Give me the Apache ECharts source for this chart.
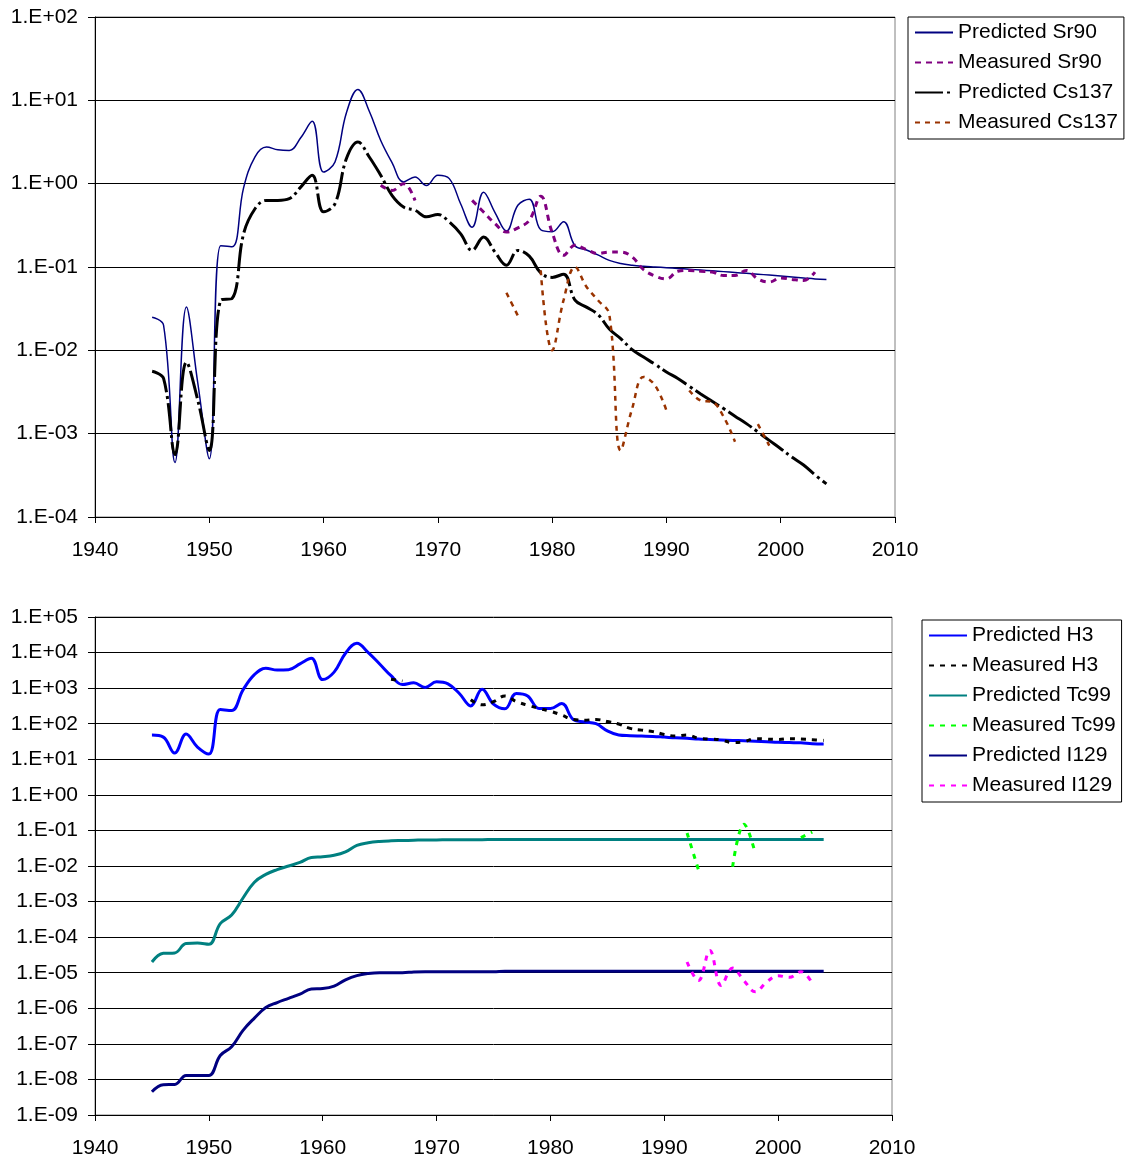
<!DOCTYPE html>
<html>
<head>
<meta charset="utf-8">
<title>Predicted and measured concentrations</title>
<script src="https://cdn.jsdelivr.net/npm/echarts@6/dist/echarts.min.js"></script>
<style>
  html, body { margin: 0; padding: 0; background: #ffffff; }
  #chart { width: 1127px; height: 1159px; }
</style>
</head>
<body>
<div id="chart"></div>
<script>
// years 1945..2004 for the predicted series
const years = Array.from({ length: 60 }, (_, i) => 1945 + i)

// top chart
const predSr90 = [
  0.025, 0.020, 4.5e-4, 0.033, 0.0040, 5.0e-4, 0.18, 0.175, 0.89, 2.1,
  2.75, 2.55, 2.5, 3.55, 5.6, 1.38, 1.82, 7.1, 13.5, 7.4,
  3.3, 1.78, 1.05, 1.2, 0.95, 1.26, 1.15, 0.57, 0.30, 0.79,
  0.45, 0.27, 0.55, 0.65, 0.28, 0.265, 0.35, 0.18, 0.16, 0.14,
  0.12, 0.11, 0.105, 0.102, 0.100, 0.098, 0.096, 0.094, 0.092, 0.090,
  0.088, 0.086, 0.084, 0.082, 0.080, 0.078, 0.076, 0.074, 0.072, 0.071
]
const predCs137 = [
  0.0056, 0.0046, 5.6e-4, 0.0072, 0.0025, 6.3e-4, 0.040, 0.042, 0.25, 0.50,
  0.63, 0.63, 0.66, 0.91, 1.26, 0.46, 0.575, 2.0, 3.16, 2.09,
  1.26, 0.72, 0.525, 0.48, 0.40, 0.427, 0.347, 0.25, 0.158, 0.229,
  0.151, 0.105, 0.158, 0.135, 0.085, 0.075, 0.082, 0.040, 0.033, 0.027,
  0.018, 0.0138, 0.0102, 0.0083, 0.0068, 0.0055, 0.0046, 0.0037, 0.0030, 0.00245,
  0.0020, 0.00162, 0.00132, 0.00105, 8.3e-4, 6.6e-4, 5.2e-4, 4.2e-4, 3.2e-4, 2.5e-4
]
const measSr90Years = [
  1965, 1966, 1967, 1968, 1969, 1970, 1971, 1972, 1973, 1974,
  1975, 1976, 1977, 1978, 1979, 1980, 1981, 1982, 1983, 1984,
  1985, 1986, 1987, 1988, 1989, 1990, 1991, 1992, 1993, 1994,
  1995, 1996, 1997, 1998, 1999, 2000, 2001, 2002, 2003
]
const measSr90 = [
  0.955, 0.83, 1.0, 0.63, null, null, null, null, 0.63, 0.457,
  0.331, 0.263, 0.295, 0.363, 0.708, 0.26, 0.138, 0.182, 0.162, 0.145,
  0.151, 0.151, 0.132, 0.093, 0.078, 0.072, 0.089, 0.091, 0.089, 0.087,
  0.079, 0.079, 0.091, 0.072, 0.066, 0.074, 0.071, 0.069, 0.087
]
const measCs137Years = [
  1976, 1977, 1978, 1979, 1980, 1981, 1982, 1983, 1984, 1985,
  1986, 1987, 1988, 1989, 1990, 1991, 1992, 1993, 1994, 1995,
  1996, 1997, 1998, 1999
]
const measCs137 = [
  0.049, 0.026, null, 0.091, 0.010, 0.040, 0.10, 0.058, 0.040, 0.027,
  6.3e-4, 0.0020, 0.0048, 0.0038, 0.0019, null, 0.0033, 0.0025, 0.0024, 0.0016,
  8.0e-4, null, 0.0013, 7.2e-4
]

// bottom chart
const predH3 = [
  48, 42, 15, 51, 22, 14, 251, 234, 891, 2400,
  3630, 3240, 3310, 4790, 6920, 1740, 2820, 9550, 18200, 10000,
  4790, 2240, 1260, 1410, 1050, 1510, 1320, 708, 316, 933,
  355, 263, 708, 603, 269, 269, 372, 132, 112, 100,
  63, 48, 46, 45, 44, 42, 40, 39, 37, 36,
  35, 34, 33, 32, 31, 30, 29.5, 29, 27.5, 27
]
const measH3Years = [
  1966, 1967, 1968, 1969, 1970, 1971, 1972, 1973, 1974, 1975,
  1976, 1977, 1978, 1979, 1980, 1981, 1982, 1983, 1984, 1985,
  1986, 1987, 1988, 1989, 1990, 1991, 1992, 1993, 1994, 1995,
  1996, 1997, 1998, 1999, 2000, 2001, 2002, 2003, 2004
]
const measH3 = [
  1780, 1580, null, null, null, null, null, 470, 340, 417,
  600, 420, 330, 270, 224, 174, 132, 126, 132, 115,
  98, 74, 66, 60, 50, 45, 48, 39, 37, 35,
  29.5, 31, 38, 37, 36, 38, 37, 35.5, 34
]
const predTc99 = [
  2.0e-5, 3.5e-5, 3.6e-5, 6.6e-5, 6.8e-5, 6.3e-5, 2.4e-4, 4.2e-4, 1.26e-3, 3.5e-3,
  5.8e-3, 7.9e-3, 0.010, 0.0126, 0.0174, 0.0182, 0.020, 0.025, 0.038, 0.045,
  0.049, 0.051, 0.052, 0.053, 0.054, 0.054, 0.055, 0.055, 0.055, 0.055,
  0.056, 0.056, 0.056, 0.056, 0.056, 0.056, 0.056, 0.056, 0.056, 0.056,
  0.056, 0.056, 0.056, 0.056, 0.056, 0.056, 0.056, 0.056, 0.056, 0.056,
  0.056, 0.056, 0.056, 0.056, 0.056, 0.056, 0.056, 0.056, 0.056, 0.056
]
const measTc99Years = [1992, 1993, 1994, 1995, 1996, 1997, 1998, 1999, 2000, 2001, 2002, 2003]
const measTc99 = [0.085, 0.0078, null, null, 0.0095, 0.15, 0.022, null, null, null, 0.063, 0.090]
const predI129 = [
  4.5e-9, 7.1e-9, 7.2e-9, 1.3e-8, 1.3e-8, 1.3e-8, 4.7e-8, 8.3e-8, 2.4e-7, 5.3e-7,
  1.05e-6, 1.45e-6, 1.9e-6, 2.5e-6, 3.5e-6, 3.6e-6, 4.2e-6, 6.3e-6, 8.3e-6, 9.5e-6,
  1.0e-5, 1.0e-5, 1.0e-5, 1.05e-5, 1.07e-5, 1.07e-5, 1.07e-5, 1.07e-5, 1.07e-5, 1.07e-5,
  1.07e-5, 1.1e-5, 1.1e-5, 1.1e-5, 1.1e-5, 1.1e-5, 1.1e-5, 1.1e-5, 1.1e-5, 1.1e-5,
  1.1e-5, 1.1e-5, 1.1e-5, 1.1e-5, 1.1e-5, 1.1e-5, 1.1e-5, 1.1e-5, 1.1e-5, 1.1e-5,
  1.1e-5, 1.1e-5, 1.1e-5, 1.1e-5, 1.1e-5, 1.1e-5, 1.1e-5, 1.1e-5, 1.1e-5, 1.1e-5
]
const measI129Years = [1992, 1993, 1994, 1995, 1996, 1997, 1998, 1999, 2000, 2001, 2002, 2003]
const measI129 = [2.0e-5, 6.0e-6, 4.2e-5, 4.4e-6, 1.35e-5, 6.0e-6, 2.9e-6, 5.5e-6, 8.2e-6, 7.4e-6, 1.07e-5, 5.0e-6]

const FONT = '"Liberation Sans", Arial, sans-serif'

const pairs = (xs, ys) => xs.map((x, i) => [x, ys[i]])

const expLabel = (v) => {
  const e = Math.round(Math.log10(v))
  return '1.E' + (e < 0 ? '-' : '+') + String(Math.abs(e)).padStart(2, '0')
}

const xAxisBase = (gridIndex) => ({
  gridIndex,
  type: 'value',
  min: 1940,
  max: 2010,
  interval: 10,
  axisLine: { show: true, lineStyle: { color: '#000', width: 1 } },
  axisTick: { show: true, inside: false, length: 6, lineStyle: { color: '#000' } },
  axisLabel: { fontSize: 21, color: '#000', fontFamily: FONT, margin: 23, formatter: (v) => String(v) },
  splitLine: { show: false },
})

const yAxisBase = (gridIndex, min, max) => ({
  gridIndex,
  type: 'log',
  logBase: 10,
  min,
  max,
  interval: 1,
  axisLine: { show: true, lineStyle: { color: '#000', width: 1 } },
  axisTick: { show: true, inside: false, length: 7, lineStyle: { color: '#000' } },
  axisLabel: { fontSize: 21, color: '#000', fontFamily: FONT, margin: 17, formatter: expLabel },
  splitLine: { show: true, lineStyle: { color: '#000', width: 1 } },
  minorTick: { show: false },
  minorSplitLine: { show: false },
})

const line = (name, gridIndex, data, color, width, type) => ({
  name,
  type: 'line',
  xAxisIndex: gridIndex,
  yAxisIndex: gridIndex,
  data,
  smooth: 0.4,
  symbol: 'none',
  connectNulls: false,
  lineStyle: { color, width, type },
  itemStyle: { color },
  emphasis: { disabled: true },
})

const legendBase = {
  orient: 'vertical',
  borderColor: '#000',
  borderWidth: 1,
  backgroundColor: '#fff',
  padding: [5, 6, 6, 6],
  itemGap: 9,
  itemWidth: 38,
  itemHeight: 12,
  selectedMode: false,
  // hide the round marker, keep only the line sample
  itemStyle: { opacity: 0, borderWidth: 0 },
  textStyle: { fontSize: 21, color: '#000', fontFamily: FONT },
}

const chart = echarts.init(document.getElementById('chart'))

const option = {
  backgroundColor: '#ffffff',
  animation: false,
  textStyle: { fontFamily: FONT },
  grid: [
    { left: 95, top: 17, width: 800, height: 500, show: true, borderColor: '#808080', borderWidth: 1, backgroundColor: '#fff' },
    { left: 95, top: 617, width: 797, height: 498, show: true, borderColor: '#808080', borderWidth: 1, backgroundColor: '#fff' },
  ],
  xAxis: [xAxisBase(0), xAxisBase(1)],
  yAxis: [yAxisBase(0, 1e-4, 1e2), yAxisBase(1, 1e-9, 1e5)],
  legend: [
    Object.assign({}, legendBase, {
      left: 908,
      top: 17,
      data: ['Predicted Sr90', 'Measured Sr90', 'Predicted Cs137', 'Measured Cs137'],
    }),
    Object.assign({}, legendBase, {
      left: 922,
      top: 620,
      data: ['Predicted H3', 'Measured H3', 'Predicted Tc99', 'Measured Tc99', 'Predicted I129', 'Measured I129'],
    }),
  ],
  series: [
    line('Predicted Sr90', 0, pairs(years, predSr90), '#000080', 1.5, 'solid'),
    line('Measured Sr90', 0, pairs(measSr90Years, measSr90), '#800080', 3, [6, 5]),
    line('Predicted Cs137', 0, pairs(years, predCs137), '#000000', 3, [28, 4, 3, 4]),
    line('Measured Cs137', 0, pairs(measCs137Years, measCs137), '#993300', 2.5, [5, 5]),

    line('Predicted H3', 1, pairs(years, predH3), '#0000FF', 3, 'solid'),
    line('Measured H3', 1, pairs(measH3Years, measH3), '#000000', 3, [5, 6]),
    line('Predicted Tc99', 1, pairs(years, predTc99), '#008080', 3, 'solid'),
    line('Measured Tc99', 1, pairs(measTc99Years, measTc99), '#00FF00', 3, [5, 6]),
    line('Predicted I129', 1, pairs(years, predI129), '#000080', 3, 'solid'),
    line('Measured I129', 1, pairs(measI129Years, measI129), '#FF00FF', 3, [5, 6]),
  ],
}

chart.setOption(option)
</script>
</body>
</html>
